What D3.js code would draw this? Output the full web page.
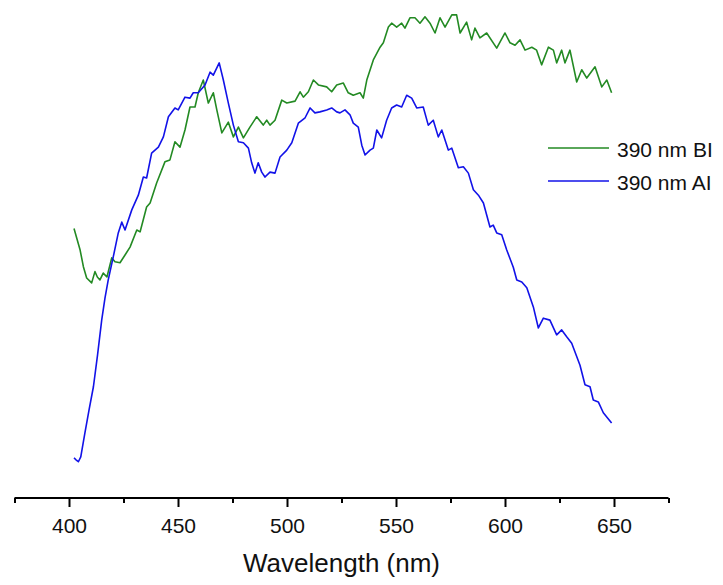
<!DOCTYPE html>
<html>
<head>
<meta charset="utf-8">
<script src="https://cdn.jsdelivr.net/npm/d3@7"></script>
<style>
  html, body { margin: 0; padding: 0; background: #fff; }
  svg { display: block; font-family: "Liberation Sans", Arial, sans-serif; }
</style>
</head>
<body>
<svg id="chart" width="723" height="585"></svg>
<script>
// wavelength (nm) and relative intensity (a.u.)
const bi_nm = [402.3,405.1,406.6,408.1,410.4,411.9,413.0,414.2,415.7,417.4,419.6,421.1,423.4,425.7,428.0,431.1,432.6,435.6,437.2,440.2,444.0,446.3,448.6,450.9,453.2,455.5,457.8,459.3,461.6,463.9,466.2,467.8,470.1,473.1,475.4,477.7,480.0,483.0,486.1,489.1,490.7,492.2,494.5,497.6,499.9,503.7,506.0,507.5,509.8,512.1,514.4,518.2,520.5,522.8,525.8,528.1,530.4,533.5,535.0,536.6,539.6,542.7,544.2,546.5,548.0,550.3,552.6,554.1,556.4,558.7,561.0,563.3,565.6,567.9,570.2,572.5,575.6,577.8,579.4,582.4,584.7,586.2,588.5,591.6,596.2,600.0,602.3,604.6,606.9,609.2,612.3,614.5,616.8,619.9,622.2,623.7,626.0,627.5,629.8,632.9,635.2,637.5,641.3,644.4,646.7,648.9];
const bi_val = [55.0,50.6,47.2,44.9,43.9,46.2,45.1,44.5,45.9,45.1,49.0,48.2,48.0,49.6,51.2,54.7,54.3,59.4,60.2,64.3,68.6,69.0,72.7,71.6,75.1,79.8,79.8,82.7,85.3,80.6,82.7,79.2,74.5,76.7,73.7,75.7,73.5,75.7,77.8,76.1,77.1,76.1,77.1,81.2,80.6,81.0,82.9,81.8,82.9,85.3,84.3,83.9,82.9,84.3,84.7,82.7,82.2,82.7,81.6,85.3,89.4,92.0,92.9,96.1,96.9,96.1,96.9,95.9,98.0,98.0,96.9,98.2,96.9,94.9,98.0,96.1,98.6,98.6,94.9,97.1,93.5,95.9,93.9,94.9,91.8,94.9,92.9,92.4,93.5,91.4,92.0,91.4,88.4,92.0,91.4,88.8,91.4,88.8,91.4,84.9,87.4,85.7,88.0,83.9,85.3,82.7];

const ai_nm = [402.3,403.2,404.3,405.4,407.3,409.2,411.2,413.1,415.0,416.5,418.0,420.3,422.6,424.2,425.7,428.8,431.8,434.1,435.6,437.9,441.0,443.3,445.6,448.6,450.1,453.2,455.5,457.0,459.3,462.4,464.7,466.2,468.9,470.8,473.1,475.4,477.7,480.0,482.3,483.8,485.3,486.8,488.4,489.9,492.2,494.5,496.8,499.9,502.2,505.2,508.3,510.6,512.8,515.1,518.2,520.5,522.8,524.3,526.6,528.9,530.4,532.7,534.3,535.8,538.1,539.6,541.2,543.4,545.7,548.0,550.3,552.6,554.9,557.2,559.5,562.5,564.8,567.1,569.4,571.0,574.0,575.6,578.6,580.9,583.2,585.5,587.8,590.1,593.1,594.6,596.2,598.5,600.8,603.8,605.4,607.7,610.0,613.0,615.3,617.6,620.6,623.7,626.0,628.3,630.6,634.4,636.7,639.0,640.5,642.8,645.1,648.9];
const ai_val = [8.2,7.8,7.4,8.4,13.3,18.0,22.7,29.2,36.3,40.8,44.5,49.2,54.1,56.3,54.7,58.8,61.8,65.5,65.3,70.4,71.6,73.7,77.8,79.6,79.2,81.8,81.6,82.7,82.7,84.3,86.9,86.3,88.8,85.3,80.6,76.1,72.7,72.5,71.4,68.4,66.3,68.4,66.5,65.5,66.5,66.3,69.6,71.0,72.5,76.5,77.6,79.6,78.6,78.8,79.2,79.6,78.8,78.6,79.2,78.2,76.5,75.7,72.0,70.0,71.0,71.4,75.1,73.5,77.1,79.6,80.2,79.8,82.2,81.6,79.6,79.8,76.1,77.1,73.7,75.1,71.0,71.4,67.4,67.6,66.3,62.9,61.8,60.2,55.3,55.7,54.1,53.7,50.6,47.1,44.5,44.1,42.9,39.0,34.7,36.7,36.3,33.3,34.3,32.9,31.6,27.1,23.1,22.7,20.0,19.6,17.4,15.3];

const series_names = ["390 nm BI", "390 nm AI"];
const series_colors = ["#238a23", "#1212e8"];
const major_ticks = [400, 450, 500, 550, 600, 650];
const minor_ticks = [375, 425, 475, 525, 575, 625, 675];

const svg = d3.select('#chart');

const x = d3.scaleLinear().domain([375, 675]).range([14.5, 668.5]);
const y = d3.scaleLinear().domain([0, 100]).range([498, 8]);

const series = [
  { name: series_names[0], color: series_colors[0], pts: d3.zip(bi_nm, bi_val) },
  { name: series_names[1], color: series_colors[1], pts: d3.zip(ai_nm, ai_val) }
];

const line = d3.line()
  .x(d => x(d[0]))
  .y(d => y(d[1]));

svg.selectAll('path.curve')
  .data(series)
  .enter().append('path')
  .attr('class', 'curve')
  .attr('fill', 'none')
  .attr('stroke', d => d.color)
  .attr('stroke-width', 1.6)
  .attr('stroke-linejoin', 'round')
  .attr('d', d => line(d.pts));

// x axis, minor ticks first then the labelled ones
const gx = svg.append('g').attr('transform', `translate(0,${y(0)})`);

gx.append('g')
  .call(d3.axisBottom(x).tickValues(minor_ticks).tickSize(5).tickSizeOuter(0).tickFormat(''))
  .call(g => g.select('.domain').remove())
  .selectAll('line').attr('stroke', '#000').attr('stroke-width', 2);

gx.append('g')
  .call(d3.axisBottom(x).tickValues(major_ticks).tickSize(9).tickSizeOuter(0).tickPadding(11))
  .call(g => g.select('.domain').attr('stroke-width', 2).attr('d', `M${x(375)},0H${x(675)}`))
  .call(g => g.selectAll('line').attr('stroke', '#000').attr('stroke-width', 2))
  .call(g => g.selectAll('text')
    .attr('fill', '#111')
    .style('font-size', '21px')
    .style('font-family', '"Liberation Sans", Arial, sans-serif'));

svg.append('text')
  .attr('x', (x(375) + x(675)) / 2)
  .attr('y', 572)
  .attr('text-anchor', 'middle')
  .attr('fill', '#111')
  .style('font-size', '26px')
  .text('Wavelength (nm)');

// legend
const legend = svg.append('g').attr('transform', 'translate(548,148)');
const li = legend.selectAll('g')
  .data(series)
  .enter().append('g')
  .attr('transform', (d, i) => `translate(0,${i * 33})`);

li.append('line')
  .attr('x1', 0).attr('x2', 61)
  .attr('y1', 0).attr('y2', 0)
  .attr('stroke', d => d.color)
  .attr('stroke-width', 1.6);

li.append('text')
  .attr('x', 69)
  .attr('y', 9)
  .attr('fill', '#111')
  .style('font-size', '21px')
  .text(d => d.name);
</script>
</body>
</html>
